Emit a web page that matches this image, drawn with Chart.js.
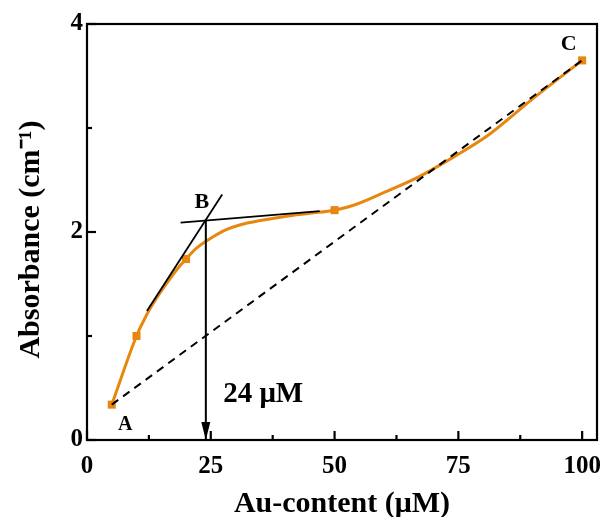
<!DOCTYPE html>
<html>
<head>
<meta charset="utf-8">
<title>Absorbance vs Au-content</title>
<script src="https://cdn.jsdelivr.net/npm/chart.js@4.4.1/dist/chart.umd.min.js"></script>
<style>
  html, body { margin: 0; padding: 0; background: #fff; }
  #wrap { width: 606px; height: 517px; position: relative; }
</style>
</head>
<body>
<div id="wrap"><canvas id="chart"></canvas></div>
<script>
// Measured absorbance at each Au concentration (µM)
const concentrations = [5, 10, 20, 50, 100];
const absorbance = [0.34, 1.0, 1.74, 2.21, 3.65];

// Smoothed trend line through the measurements
const fitX = [5, 10, 12, 14, 16, 18, 20, 22, 25, 28, 31, 35, 40, 45, 50, 54, 60, 67, 74, 81, 90, 100];
const fitY = [0.34, 1.0, 1.2, 1.36, 1.5, 1.63, 1.74, 1.84, 1.94, 2.02, 2.07, 2.11, 2.15, 2.18, 2.21, 2.26, 2.38, 2.53, 2.72, 2.93, 3.28, 3.65];

// Tangents to the two regimes of the curve and their crossing point B
const steepTangentX = [12.1, 27.3];
const steepTangentY = [1.24, 2.36];
const flatTangentX = [18.9, 47.0];
const flatTangentY = [2.09, 2.20];
const breakX = 24;
const breakY = 2.115;

// Axis ticks
const xTickValues = [0, 25, 50, 75, 100];
const xMinorTicks = [12.5, 37.5, 62.5, 87.5];
const yTickValues = [0, 2, 4];
const yMinorTicks = [1, 3];

// Point letters
const pointLetters = ['A', 'B', 'C'];

const ORANGE = '#E8870E';
const SERIF = "'Liberation Serif', 'Times New Roman', serif";

const pts = (xs, ys) => xs.map((x, i) => ({ x: x, y: ys[i] }));

// Where the letters and the arrow caption sit (data units)
const letterAnchors = [
  { x: 7.7, y: 0.15, size: 20 },
  { x: 23.2, y: 2.29, size: 22 },
  { x: 97.3, y: 3.80, size: 22 }
];

const decorations = {
  id: 'decorations',
  afterDatasetsDraw(chart) {
    const { ctx, scales: { x, y } } = chart;
    ctx.save();
    // arrow head at the bottom of the vertical line
    const ax = x.getPixelForValue(breakX);
    const ay = y.getPixelForValue(0);
    ctx.fillStyle = '#000';
    ctx.beginPath();
    ctx.moveTo(ax, ay);
    ctx.lineTo(ax - 4.5, ay - 18);
    ctx.lineTo(ax + 4.5, ay - 18);
    ctx.closePath();
    ctx.fill();

    // letters
    ctx.textAlign = 'center';
    ctx.textBaseline = 'middle';
    letterAnchors.forEach((p, i) => {
      ctx.font = 'bold ' + p.size + 'px ' + SERIF;
      ctx.fillText(pointLetters[i], x.getPixelForValue(p.x), y.getPixelForValue(p.y));
    });

    // caption for the break concentration
    ctx.textAlign = 'left';
    ctx.textBaseline = 'alphabetic';
    ctx.font = 'bold 29px ' + SERIF;
    ctx.fillText(breakX + ' \u03bcM', x.getPixelForValue(27.5), y.getPixelForValue(0.37));
    ctx.restore();
  },
  afterDraw(chart) {
    const { ctx, chartArea: a, scales: { x, y } } = chart;
    ctx.save();
    ctx.strokeStyle = '#000';
    ctx.lineWidth = 2.2;
    ctx.lineCap = 'butt';
    // inward tick marks
    const tick = (px, py, dx, dy) => {
      ctx.beginPath();
      ctx.moveTo(px, py);
      ctx.lineTo(px + dx, py + dy);
      ctx.stroke();
    };
    xTickValues.forEach(v => tick(x.getPixelForValue(v), a.bottom, 0, -9));
    xMinorTicks.forEach(v => tick(x.getPixelForValue(v), a.bottom, 0, -5));
    yTickValues.forEach(v => tick(a.left, y.getPixelForValue(v), 9, 0));
    yMinorTicks.forEach(v => tick(a.left, y.getPixelForValue(v), 5, 0));
    // frame
    ctx.strokeRect(a.left, a.top, a.right - a.left, a.bottom - a.top);
    ctx.restore();
  }
};

new Chart(document.getElementById('chart'), {
  type: 'scatter',
  data: {
    datasets: [
      {
        label: 'Steep tangent',
        type: 'line',
        data: pts(steepTangentX, steepTangentY),
        borderColor: '#000',
        borderWidth: 1.8,
        pointRadius: 0,
        order: 0
      },
      {
        label: 'Flat tangent',
        type: 'line',
        data: pts(flatTangentX, flatTangentY),
        borderColor: '#000',
        borderWidth: 1.8,
        pointRadius: 0,
        order: 0
      },
      {
        label: 'Break',
        type: 'line',
        data: [{ x: breakX, y: breakY }, { x: breakX, y: 0 }],
        borderColor: '#000',
        borderWidth: 2,
        pointRadius: 0,
        order: 0
      },
      {
        label: 'A to C',
        type: 'line',
        data: [
          { x: concentrations[0], y: absorbance[0] },
          { x: concentrations[concentrations.length - 1], y: absorbance[absorbance.length - 1] }
        ],
        borderColor: '#000',
        borderWidth: 2,
        borderDash: [8, 6],
        pointRadius: 0,
        order: 0
      },
      {
        label: 'Measured',
        data: pts(concentrations, absorbance),
        backgroundColor: ORANGE,
        borderColor: ORANGE,
        pointStyle: 'rect',
        pointRadius: 5.7,
        pointBorderWidth: 0,
        showLine: false,
        order: 1
      },
      {
        label: 'Trend',
        type: 'line',
        data: pts(fitX, fitY),
        borderColor: ORANGE,
        borderWidth: 3,
        pointRadius: 0,
        cubicInterpolationMode: 'monotone',
        order: 2
      }
    ]
  },
  options: {
    responsive: true,
    maintainAspectRatio: false,
    animation: false,
    layout: { padding: { top: 24, right: 9, left: 0, bottom: 0 } },
    plugins: {
      legend: { display: false },
      tooltip: { enabled: false }
    },
    scales: {
      x: {
        type: 'linear',
        min: 0,
        max: 103,
        afterBuildTicks: s => { s.ticks = xTickValues.map(v => ({ value: v })); },
        afterFit: s => { s.height = 77; s.paddingLeft = 0; s.paddingRight = 0; },
        grid: { display: false, drawTicks: false },
        border: { display: false },
        ticks: {
          autoSkip: false,
          maxRotation: 0,
          padding: 12,
          color: '#000',
          font: { family: SERIF, weight: 'bold', size: 25 }
        },
        title: {
          display: true,
          text: 'Au-content (\u03bcM)',
          color: '#000',
          padding: { top: 0, bottom: -5 },
          font: { family: SERIF, weight: 'bold', size: 30 }
        }
      },
      y: {
        type: 'linear',
        min: 0,
        max: 4,
        afterBuildTicks: s => { s.ticks = yTickValues.map(v => ({ value: v })); },
        afterFit: s => { s.width = 87; s.paddingTop = 0; s.paddingBottom = 0; },
        grid: { display: false, drawTicks: false },
        border: { display: false },
        ticks: {
          autoSkip: false,
          padding: 4,
          color: '#000',
          font: { family: SERIF, weight: 'bold', size: 25 }
        },
        title: {
          display: true,
          text: 'Absorbance (cm\u207b\u00b9)  ',
          color: '#000',
          padding: { top: 13, bottom: 0 },
          font: { family: SERIF, weight: 'bold', size: 30 }
        }
      }
    }
  },
  plugins: [decorations]
});
</script>
</body>
</html>
